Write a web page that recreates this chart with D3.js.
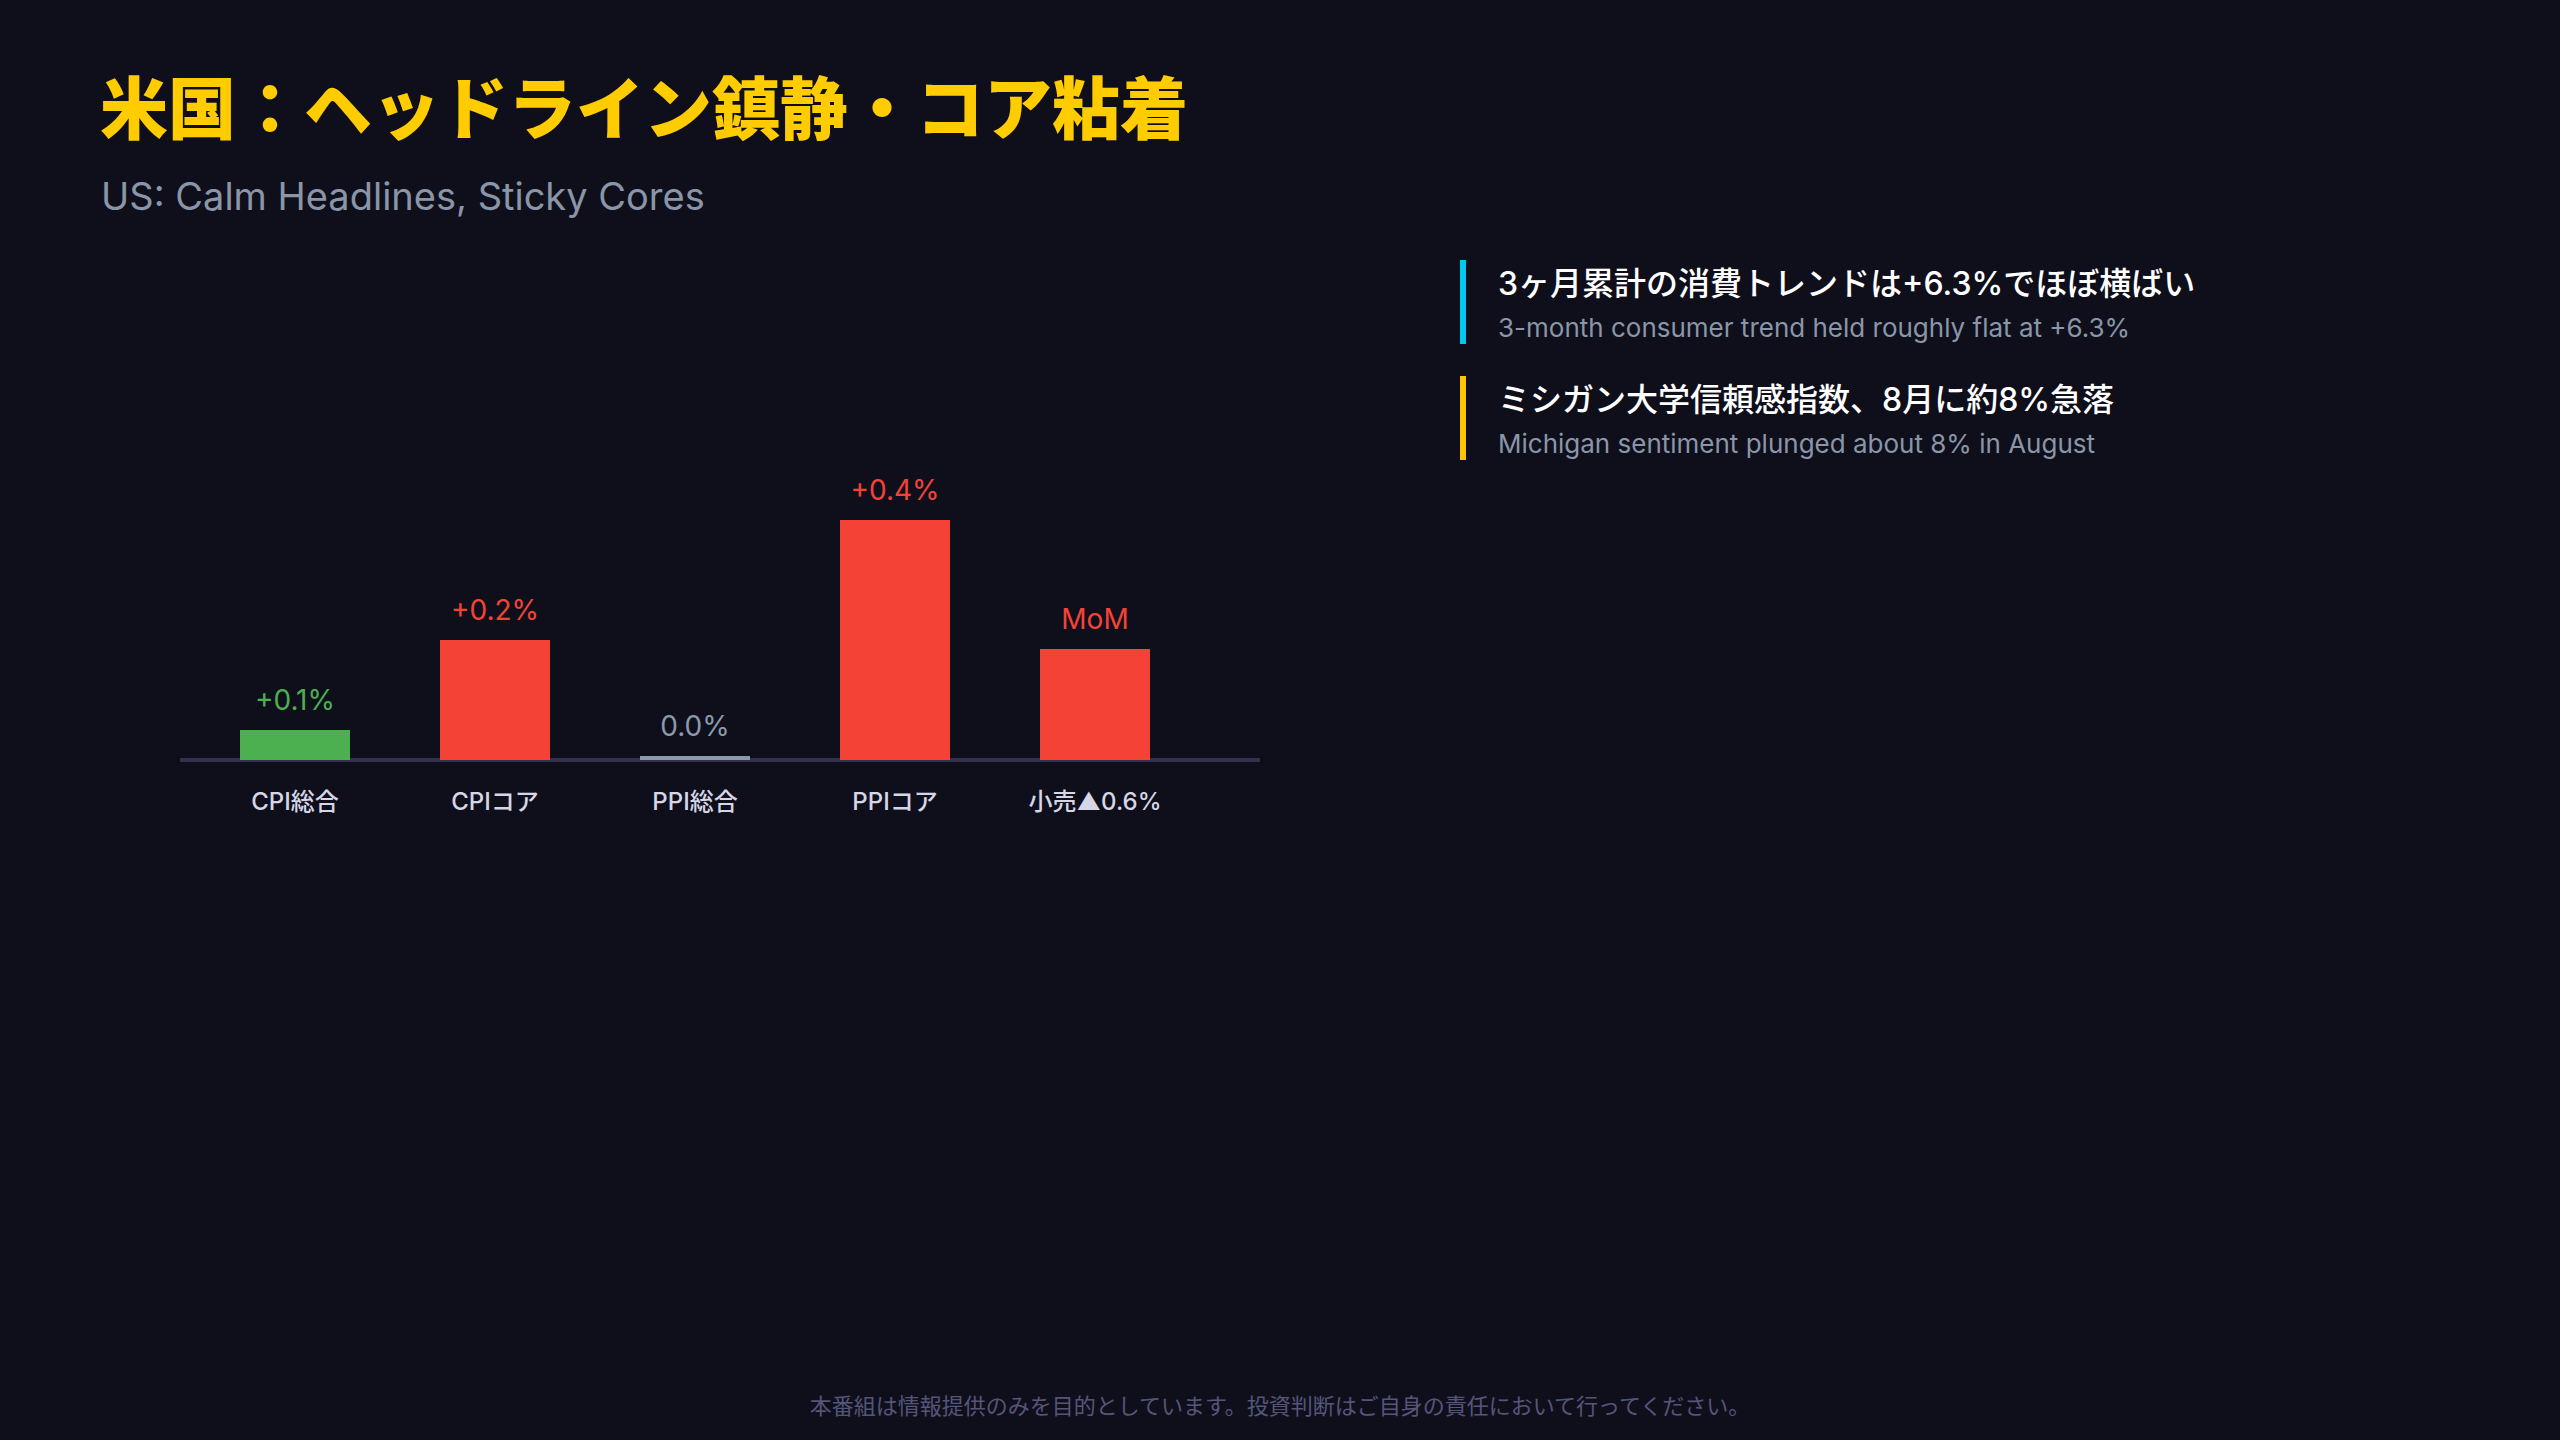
<!DOCTYPE html>
<html>
<head>
<meta charset="utf-8">
<script src="https://cdn.jsdelivr.net/npm/d3@7"></script>
<style>
  html, body { margin: 0; padding: 0; background: #0f0f1c; }
  svg { display: block; }
</style>
</head>
<body>
<script>
// ---- data ----
const categories = ["CPI総合", "CPIコア", "PPI総合", "PPIコア", "小売▲0.6%"];
const values = [0.05, 0.2, 0, 0.4, 0.185];
const valueLabels = ["+0.1%", "+0.2%", "0.0%", "+0.4%", "MoM"];
const tones = ["up", "down", "flat", "down", "down"];
const yDomain = [0, 0.4];

const title = "米国：ヘッドライン鎮静・コア粘着";
const subtitle = "US: Calm Headlines, Sticky Cores";
const noteHeads = ["3ヶ月累計の消費トレンドは+6.3%でほぼ横ばい", "ミシガン大学信頼感指数、8月に約8%急落"];
const noteSubs = ["3-month consumer trend held roughly flat at +6.3%", "Michigan sentiment plunged about 8% in August"];
const noteTones = ["info", "warn"];
const footer = "本番組は情報提供のみを目的としています。投資判断はご自身の責任において行ってください。";

// ---- styles ----
const W = 2560, H = 1440;
const toneColor = { up: "#4caf50", down: "#f44336", flat: "#8a9aab" };
const noteColor = { info: "#00c8f0", warn: "#ffc400" };
const latin = "Inter, 'Noto Sans CJK JP', sans-serif";
const cjk = "'Noto Sans CJK JP', sans-serif";

const svg = d3.select("body").append("svg").attr("width", W).attr("height", H);
svg.append("rect").attr("width", W).attr("height", H).attr("fill", "#0f0f1c");

// title
svg.append("text").attr("x", 100).attr("y", 134)
  .attr("font-family", cjk).attr("font-weight", 900).attr("font-size", 68)
  .attr("fill", "#ffcc00").text(title);
svg.append("text").attr("x", 101).attr("y", 210)
  .attr("font-family", latin).attr("font-size", 38)
  .attr("fill", "#8a96a8").text(subtitle);

// chart
const x = d3.scaleBand().domain(categories).range([195, 1195])
  .paddingInner(0.45).paddingOuter(0.225);
const y = d3.scaleLinear().domain(yDomain).range([760, 520]);

svg.append("line").attr("x1", 180).attr("x2", 1260).attr("y1", 760).attr("y2", 760)
  .attr("stroke", "#32324e").attr("stroke-width", 4);

const g = svg.append("g");
const rows = categories.map((c, i) => ({ c, v: values[i], label: valueLabels[i], tone: tones[i] }));

g.selectAll("rect.bar").data(rows).join("rect").attr("class", "bar")
  .attr("x", d => x(d.c)).attr("width", x.bandwidth())
  .attr("y", d => Math.min(y(d.v), y(0) - 4))
  .attr("height", d => Math.max(y(0) - y(d.v), 4))
  .attr("fill", d => toneColor[d.tone]);

g.selectAll("text.val").data(rows).join("text").attr("class", "val")
  .attr("x", d => x(d.c) + x.bandwidth() / 2)
  .attr("y", d => Math.min(y(d.v), y(0) - 4) - 20)
  .attr("text-anchor", "middle")
  .attr("font-family", latin).attr("font-size", 28)
  .attr("fill", d => toneColor[d.tone]).text(d => d.label);

// category axis labels (axis without domain/ticks)
const xAxis = d3.axisBottom(x).tickSize(0).tickPadding(0);
const ax = svg.append("g").attr("transform", "translate(0,790)").call(xAxis);
ax.select(".domain").remove();
ax.selectAll("text").attr("font-family", latin).attr("font-size", 24)
  .attr("font-weight", 500).attr("fill", "#d6d6e6").attr("dy", "0.82em");

// notes
noteHeads.forEach((h, i) => {
  const top = 260 + i * 116;
  svg.append("rect").attr("x", 1460).attr("y", top).attr("width", 6).attr("height", 84)
    .attr("fill", noteColor[noteTones[i]]);
  svg.append("text").attr("x", 1498).attr("y", top + 35)
    .attr("font-family", latin).attr("font-weight", 500).attr("font-size", 32)
    .attr("fill", "#ffffff").text(h);
  svg.append("text").attr("x", 1498).attr("y", top + 77)
    .attr("font-family", latin).attr("font-size", 26)
    .attr("fill", "#8a96a8").text(noteSubs[i]);
});

// footer
svg.append("text").attr("x", 1280).attr("y", 1414).attr("text-anchor", "middle")
  .attr("font-family", cjk).attr("font-size", 22)
  .attr("fill", "#55557a").text(footer);
</script>
</body>
</html>
